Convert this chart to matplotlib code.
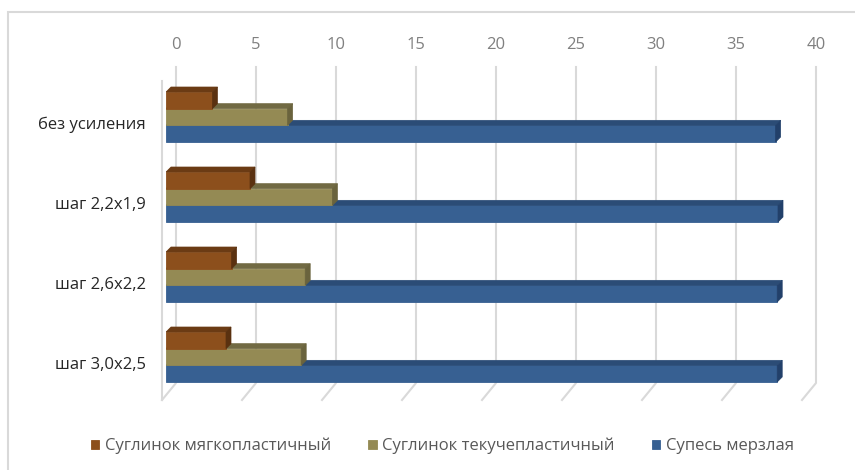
import matplotlib
matplotlib.use("Agg")
import matplotlib.pyplot as plt
import matplotlib.transforms as mtransforms
from matplotlib.patches import Polygon, Rectangle
from matplotlib.lines import Line2D

# ---------------- data ----------------
categories = ["без усиления", "шаг 2,2х1,9", "шаг 2,6х2,2", "шаг 3,0х2,5"]
series_names = ["Суглинок мягкопластичный", "Суглинок текучепластичный", "Супесь мерзлая"]
soft_loam = [2.9, 5.25, 4.1, 3.75]
fluid_loam = [7.6, 10.4, 8.7, 8.45]
frozen_sandy = [38.1, 38.25, 38.2, 38.2]
x_ticks = [0, 5, 10, 15, 20, 25, 30, 35, 40]

FONT = ["Open Sans", "DejaVu Sans"]
plt.rcParams["font.family"] = FONT

W, H = 855, 470
fig = plt.figure(figsize=(W / 100, H / 100), dpi=100)
fig.patch.set_facecolor("white")

# chart border (light grey, extends past right/bottom edges)
fig.patches.append(Rectangle((8 / W, -0.1), 1.2, 1 - 12 / H + 0.1,
                             transform=fig.transFigure, fill=False,
                             edgecolor="#D9D9D9", linewidth=1.5))

# axes: bar plane, 0 at px 166, 40 at px 806; top px 67, bottom px 383
ax = fig.add_axes([166 / W, 1 - 383 / H, 640 / W, 316 / H])
ax.set_xlim(0, 40)
ax.set_ylim(3.325, -0.625)
ax.axis("off")

fig.canvas.draw()
T = ax.transData.transform


def disp(v, y, dx=0, dy=0):
    p = T((v, y))
    return (p[0] + dx, p[1] + dy)


ytop, ybot = -0.625, 3.325
grid_c = "#D9D9D9"
# back-wall gridlines + floor diagonals + tick labels
for v in x_ticks:
    bt = disp(v, ytop, 10, 0)
    bb = disp(v, ybot, 10, 0)
    fr = (bb[0] - 14, bb[1] - 17)
    fig.add_artist(Line2D([bt[0], bb[0], fr[0]], [bt[1], bb[1], fr[1]],
                          transform=None, color=grid_c, linewidth=1.5, zorder=0))
    fig.text(bt[0], bt[1] + 22, str(v), transform=None, ha="center", va="center",
             fontsize=12, color="#808080")

# left wall front edge
bt0 = disp(0, ytop, 10, 0)
bb0 = disp(0, ybot, 10, 0)
fig.add_artist(Line2D([bt0[0] - 14, bb0[0] - 14], [bt0[1] - 14, bb0[1] - 17],
                      transform=None, color=grid_c, linewidth=1.5, zorder=0))

# bars
h = 0.2083
series = [
    (frozen_sandy, series_names[2], ("#376092", "#2B4C76", "#22406A"), 1.0 * h),
    (fluid_loam, series_names[1], ("#948A54", "#716A43", "#6A633D"), 0.0),
    (soft_loam, series_names[0], ("#8C4F1C", "#6B3B14", "#5A3110"), -1.0 * h),
]
d = (5, 5)
handles = {}
for z, (vals, name, (cf, ct, cs), off) in enumerate(series):
    for i, v in enumerate(vals):
        yc = i + off
        b = ax.barh(yc, v, height=h, color=cf, edgecolor=cf, linewidth=0.6,
                    zorder=3 + z * 3, label=name if i == 0 else None)
        A = disp(0, yc - h / 2)
        B = disp(v, yc - h / 2)
        C = disp(v, yc + h / 2)
        top = Polygon([A, B, (B[0] + d[0], B[1] + d[1]), (A[0] + d[0], A[1] + d[1])],
                      closed=True, transform=None, facecolor=ct, edgecolor=ct,
                      linewidth=0.5, zorder=3 + z * 3 + 1)
        side = Polygon([B, C, (C[0] + d[0], C[1] + d[1]), (B[0] + d[0], B[1] + d[1])],
                       closed=True, transform=None, facecolor=cs, edgecolor=cs,
                       linewidth=0.5, zorder=3 + z * 3 + 1)
        ax.add_artist(top)
        ax.add_artist(side)
        if i == 0:
            handles[name] = b

# category labels
lab_tr = mtransforms.offset_copy(ax.transData, fig=fig, x=-20, y=-8, units="dots")
for i, c in enumerate(categories):
    ax.text(0, i, c, transform=lab_tr, ha="right", va="center", fontsize=12,
            color="#262626", clip_on=False)

# legend
leg = fig.legend([handles[n] for n in series_names], series_names, ncol=3,
                 loc="center", bbox_to_anchor=(0.5175, 1 - 446 / H), frameon=False,
                 fontsize=12, handlelength=0.5, handleheight=0.5, handletextpad=0.35,
                 columnspacing=2.2, labelcolor="#595959")

fig.savefig("out.png", dpi=100)
